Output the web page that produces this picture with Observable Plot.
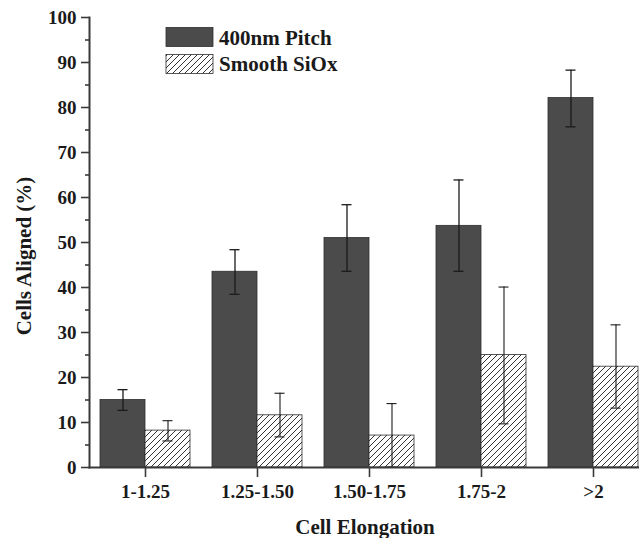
<!DOCTYPE html>
<html>
<head>
<meta charset="utf-8">
<script src="https://cdn.jsdelivr.net/npm/d3@7"></script>
<script src="https://cdn.jsdelivr.net/npm/@observablehq/plot@0.6"></script>
<style>
  html, body { margin: 0; padding: 0; background: white; overflow: hidden; }
  svg { overflow: hidden; }
</style>
</head>
<body>
<div id="chart"></div>
<script>
const categories = ["1-1.25", "1.25-1.50", "1.50-1.75", "1.75-2", ">2"];
const seriesNames = ["400nm Pitch", "Smooth SiOx"];
const pitchMean = [15.0, 43.5, 51.0, 53.7, 82.1];
const pitchLow  = [12.7, 38.5, 43.6, 43.6, 75.7];
const pitchHigh = [17.3, 48.4, 58.4, 63.9, 88.3];
const smoothMean = [8.2, 11.6, 7.1, 25.0, 22.4];
const smoothLow  = [5.9, 6.8, 0.1, 9.7, 13.2];
const smoothHigh = [10.4, 16.5, 14.2, 40.1, 31.7];
const yTicks = [0, 10, 20, 30, 40, 50, 60, 70, 80, 90, 100];
const yMinorTicks = [5, 15, 25, 35, 45, 55, 65, 75, 85, 95];
const xLabel = "Cell Elongation";
const yLabel = "Cells Aligned (%)";

const pitchRows = categories.map((c, i) => ({cat: c, value: pitchMean[i], low: pitchLow[i], high: pitchHigh[i]}));
const smoothRows = categories.map((c, i) => ({cat: c, value: smoothMean[i], low: smoothLow[i], high: smoothHigh[i]}));

const FONT = "'Liberation Serif', 'Times New Roman', serif";
const AX = "#3a3a3a";
const ERR = "#1a1a1a";

const svg = Plot.plot({
  width: 639,
  height: 538,
  marginLeft: 89,
  marginRight: -10,
  marginTop: 17,
  marginBottom: 71,
  style: {fontFamily: FONT, fontWeight: "bold", fontSize: "19px", color: "#1a1a1a", background: "white"},
  x: {domain: categories, paddingInner: 0.196, paddingOuter: 0.098, label: null},
  y: {domain: [0, 100], label: null},
  marks: [
    Plot.barY(pitchRows, {x: "cat", y: "value", insetRight: 45, fill: "#4b4b4b", stroke: "#2e2e2e", strokeWidth: 0.8}),
    Plot.barY(smoothRows, {x: "cat", y: "value", insetLeft: 45, fill: "url(#hatch)", stroke: "#2e2e2e", strokeWidth: 0.8}),
    Plot.ruleX(pitchRows, {x: "cat", y1: "low", y2: "high", dx: -22.5, stroke: ERR, strokeWidth: 1.3}),
    Plot.tickY(pitchRows, {x: "cat", y: "high", insetLeft: 17.5, insetRight: 62.5, stroke: ERR, strokeWidth: 1.3}),
    Plot.tickY(pitchRows, {x: "cat", y: "low", insetLeft: 17.5, insetRight: 62.5, stroke: ERR, strokeWidth: 1.3}),
    Plot.ruleX(smoothRows, {x: "cat", y1: "low", y2: "high", dx: 22.5, stroke: ERR, strokeWidth: 1.1}),
    Plot.tickY(smoothRows, {x: "cat", y: "high", insetLeft: 62.5, insetRight: 17.5, stroke: ERR, strokeWidth: 1.1}),
    Plot.tickY(smoothRows, {x: "cat", y: "low", insetLeft: 62.5, insetRight: 17.5, stroke: ERR, strokeWidth: 1.1}),
    Plot.axisY({ticks: yTicks, tickSize: 8, tickPadding: 5, stroke: AX, strokeWidth: 1.6, fontSize: 19, fontWeight: "bold", label: null}),
    Plot.axisY({ticks: yMinorTicks, tickSize: 4, tickFormat: () => "", stroke: AX, strokeWidth: 1.6, label: null}),
    Plot.axisX({tickSize: 10, tickPadding: 7, stroke: AX, strokeWidth: 1.6, fontSize: 19, fontWeight: "bold", label: null}),
    Plot.frame({anchor: "left", stroke: AX, strokeWidth: 2}),
    Plot.frame({anchor: "bottom", stroke: AX, strokeWidth: 2})
  ]
});

const s = d3.select(svg);
s.insert("defs", ":first-child").html(
  `<pattern id="hatch" patternUnits="userSpaceOnUse" width="6" height="6">
     <rect width="6" height="6" fill="white"/>
     <path d="M-1,1 l2,-2 M0,6 l6,-6 M5,7 l2,-2" stroke="#333" stroke-width="1"/>
   </pattern>`
);

// legend
const leg = s.append("g").attr("font-family", FONT).attr("font-weight", "bold").attr("font-size", 21)
  .attr("fill", "#1a1a1a").attr("text-anchor", "start");
leg.append("rect").attr("x", 166).attr("y", 27.5).attr("width", 47).attr("height", 19).attr("fill", "#4b4b4b").attr("stroke", "#2e2e2e").attr("stroke-width", 0.8);
leg.append("rect").attr("x", 166).attr("y", 54.5).attr("width", 47).attr("height", 19).attr("fill", "url(#hatch)").attr("stroke", "#2e2e2e").attr("stroke-width", 0.8);
leg.append("text").attr("x", 219).attr("y", 45).attr("text-anchor", "start").text(seriesNames[0]);
leg.append("text").attr("x", 219).attr("y", 71).attr("text-anchor", "start").text(seriesNames[1]);

// axis titles
s.append("text").attr("font-family", FONT).attr("font-weight", "bold").attr("font-size", 21).attr("fill", "#1a1a1a")
  .attr("text-anchor", "middle").attr("x", 365).attr("y", 534).text(xLabel);
s.append("text").attr("font-family", FONT).attr("font-weight", "bold").attr("font-size", 21).attr("fill", "#1a1a1a")
  .attr("text-anchor", "middle").attr("transform", "translate(31,256) rotate(-90)").text(yLabel);

document.getElementById("chart").appendChild(svg);
</script>
</body>
</html>
